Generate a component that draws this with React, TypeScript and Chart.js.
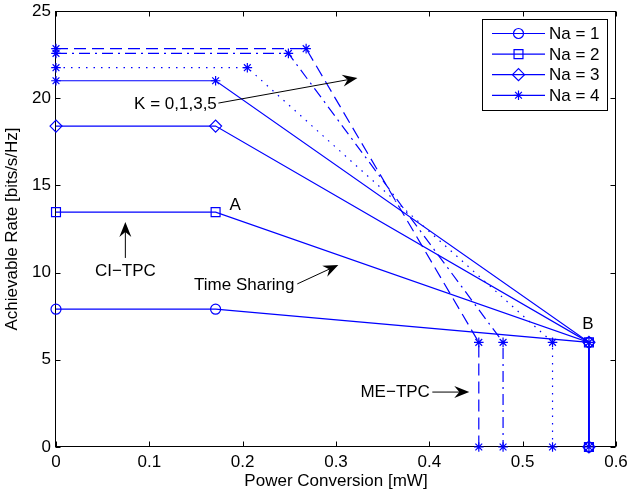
import React, { useEffect, useRef } from 'react';
import { Chart, registerables } from 'chart.js';
import { drawPoint } from 'chart.js/helpers';
Chart.register(...registerables);

const xTickValues = [0, 0.1, 0.2, 0.3, 0.4, 0.5, 0.6];
const xTickLabels = ['0', '0.1', '0.2', '0.3', '0.4', '0.5', '0.6'];
const yTickValues = [0, 5, 10, 15, 20, 25];
const yTickLabels = ['0', '5', '10', '15', '20', '25'];

const na1X = [0, 0.171, 0.571, 0.571];
const na1Y = [7.9, 7.9, 6, 0];
const na2X = [0, 0.171, 0.571, 0.571];
const na2Y = [13.47, 13.47, 6, 0];
const na3X = [0, 0.171, 0.571, 0.571];
const na3Y = [18.4, 18.4, 6, 0];
const na4K0X = [0, 0.171, 0.571, 0.571];
const na4K0Y = [21.0, 21.0, 6, 0];
const na4K1X = [0, 0.205, 0.532, 0.532];
const na4K1Y = [21.75, 21.75, 6, 0];
const na4K3X = [0, 0.249, 0.479, 0.479];
const na4K3Y = [22.57, 22.57, 6, 0];
const na4K5X = [0, 0.268, 0.453, 0.453];
const na4K5Y = [22.84, 22.84, 6, 0];

const legendLabels = ['Na = 1', 'Na = 2', 'Na = 3', 'Na = 4'];
const legendStyles = ['circle', 'rect', 'rectRot', 'star'];

const notes = [
  { text: 'K = 0,1,3,5', x: 0.128, y: 19.67 },
  { text: 'A', x: 0.192, y: 13.88 },
  { text: 'B', x: 0.570, y: 7.05 },
  { text: 'CI\u2212TPC', x: 0.0743, y: 10.09 },
  { text: 'Time Sharing', x: 0.2017, y: 9.29 },
  { text: 'ME\u2212TPC', x: 0.3634, y: 3.15 },
];
const arrows = [
  { x1: 0.174, y1: 19.72, x2: 0.323, y2: 21.16 },
  { x1: 0.0743, y1: 10.84, x2: 0.0743, y2: 12.9 },
  { x1: 0.2585, y1: 9.35, x2: 0.3025, y2: 10.44 },
  { x1: 0.4032, y1: 3.15, x2: 0.4428, y2: 3.15 },
];

const BLUE = '#0000ff';
const FONT = "'Liberation Sans', Arial, sans-serif";
const FS = 17;

const pts = (xs: number[], ys: number[]) => xs.map((x, i) => ({ x, y: ys[i] }));

const radiusFor = (style: string) =>
  style === 'circle' ? 5 : style === 'rect' ? 6.3 : style === 'rectRot' ? 6 : 4.8;

function ds(label: string, xs: number[], ys: number[], style: string, dash: number[]) {
  return {
    label,
    data: pts(xs, ys),
    showLine: true,
    borderColor: BLUE,
    borderWidth: 1.2,
    borderDash: dash,
    pointStyle: style,
    pointRadius: radiusFor(style),
    pointBorderColor: BLUE,
    pointBackgroundColor: 'rgba(0,0,0,0)',
    pointBorderWidth: 1.2,
    clip: false as any,
  };
}

function drawArrow(ctx: CanvasRenderingContext2D, x1: number, y1: number, x2: number, y2: number) {
  const ang = Math.atan2(y2 - y1, x2 - x1);
  const L = 15, W = 6, N = 10;
  ctx.save();
  ctx.strokeStyle = '#000';
  ctx.fillStyle = '#000';
  ctx.lineWidth = 1;
  ctx.beginPath();
  ctx.moveTo(x1, y1);
  ctx.lineTo(x2 - Math.cos(ang) * N, y2 - Math.sin(ang) * N);
  ctx.stroke();
  const bx = x2 - Math.cos(ang) * L, by = y2 - Math.sin(ang) * L;
  const px = -Math.sin(ang), py = Math.cos(ang);
  ctx.beginPath();
  ctx.moveTo(x2, y2);
  ctx.lineTo(bx + px * W, by + py * W);
  ctx.lineTo(x2 - Math.cos(ang) * N, y2 - Math.sin(ang) * N);
  ctx.lineTo(bx - px * W, by - py * W);
  ctx.closePath();
  ctx.fill();
  ctx.restore();
}

const framePlugin = {
  id: 'frame',
  beforeDatasetsDraw(chart: any) {
    const ctx = chart.ctx;
    const { left, right, top, bottom } = chart.chartArea;
    const xs = chart.scales.x, ys = chart.scales.y;
    ctx.save();
    ctx.strokeStyle = '#000';
    ctx.lineWidth = 1;
    const l = Math.round(left) - 0.5, r = Math.round(right) - 0.5, t = Math.round(top) + 0.5, b = Math.round(bottom) - 0.5;
    ctx.strokeRect(l, t, r - l, b - t);
    ctx.beginPath();
    const tl = 5;
    xTickValues.forEach((v) => {
      const px = Math.round(xs.getPixelForValue(v)) + 0.5;
      ctx.moveTo(px, b); ctx.lineTo(px, b - tl);
      ctx.moveTo(px, t); ctx.lineTo(px, t + tl);
    });
    yTickValues.forEach((v) => {
      const py = Math.round(ys.getPixelForValue(v)) + 0.5;
      ctx.moveTo(l, py); ctx.lineTo(l + tl, py);
      ctx.moveTo(r, py); ctx.lineTo(r - tl, py);
    });
    ctx.stroke();
    ctx.restore();
  },
  afterDraw(chart: any) {
    const ctx = chart.ctx;
    const xs = chart.scales.x, ys = chart.scales.y;
    ctx.save();
    ctx.fillStyle = '#000';
    ctx.font = `${FS}px ${FONT}`;
    ctx.textAlign = 'center';
    ctx.textBaseline = 'middle';
    notes.forEach((n) => {
      ctx.fillText(n.text, xs.getPixelForValue(n.x), ys.getPixelForValue(n.y));
    });
    ctx.restore();
    arrows.forEach((a) =>
      drawArrow(ctx, xs.getPixelForValue(a.x1), ys.getPixelForValue(a.y1), xs.getPixelForValue(a.x2), ys.getPixelForValue(a.y2))
    );
    const { right, top } = chart.chartArea;
    const bx = right - 134, by = top + 8, bw = 125, bh = 91;
    ctx.save();
    ctx.fillStyle = '#fff';
    ctx.fillRect(bx, by, bw, bh);
    ctx.strokeStyle = '#000';
    ctx.lineWidth = 1;
    ctx.strokeRect(Math.round(bx) + 0.5, Math.round(by) + 0.5, bw, bh);
    legendLabels.forEach((lab, i) => {
      const y = by + 14.5 + i * 20.6;
      ctx.strokeStyle = BLUE;
      ctx.lineWidth = 1.2;
      ctx.beginPath();
      ctx.moveTo(bx + 10, y);
      ctx.lineTo(bx + 63, y);
      ctx.stroke();
      ctx.fillStyle = 'rgba(0,0,0,0)';
      const st = legendStyles[i];
      drawPoint(ctx, { pointStyle: st as any, radius: radiusFor(st), borderWidth: 1.2, rotation: 0 }, bx + 36.5, y);
      ctx.fillStyle = '#000';
      ctx.font = `${FS}px ${FONT}`;
      ctx.textAlign = 'left';
      ctx.textBaseline = 'middle';
      ctx.fillText(lab, bx + 67, y + 1);
    });
    ctx.restore();
  },
};

export default function App() {
  const ref = useRef<HTMLCanvasElement>(null);
  useEffect(() => {
    document.body.style.margin = '0';
    const chart = new Chart(ref.current as HTMLCanvasElement, {
      type: 'scatter',
      data: {
        datasets: [
          ds('Na = 1', na1X, na1Y, 'circle', []),
          ds('Na = 2', na2X, na2Y, 'rect', []),
          ds('Na = 3', na3X, na3Y, 'rectRot', []),
          ds('Na = 4', na4K0X, na4K0Y, 'star', []),
          ds('Na = 4 K1', na4K1X, na4K1Y, 'star', [1.5, 6]),
          ds('Na = 4 K3', na4K3X, na4K3Y, 'star', [11, 5, 2, 5]),
          ds('Na = 4 K5', na4K5X, na4K5Y, 'star', [12, 6]),
        ] as any,
      },
      options: {
        responsive: false,
        animation: false,
        layout: { padding: { top: 11, right: 12, left: 0, bottom: 0 } },
        plugins: { legend: { display: false }, tooltip: { enabled: false } },
        scales: {
          x: {
            type: 'linear',
            min: 0,
            max: 0.6,
            grid: { display: false, drawTicks: false },
            border: { display: false },
            afterBuildTicks: (s: any) => { s.ticks = xTickValues.map((v) => ({ value: v })); },
            afterFit: (s: any) => { s.height = 46; s.paddingLeft = 0; s.paddingRight = 0; },
            ticks: {
              padding: 5,
              color: '#000',
              font: { family: FONT, size: FS },
              maxRotation: 0,
              callback: (_v: any, i: number) => xTickLabels[i],
            },
            title: {
              display: true,
              text: 'Power Conversion [mW]',
              color: '#000',
              font: { family: FONT, size: FS },
              padding: { top: 0, bottom: 1 },
            },
          },
          y: {
            type: 'linear',
            min: 0,
            max: 25,
            grid: { display: false, drawTicks: false },
            border: { display: false },
            afterBuildTicks: (s: any) => { s.ticks = yTickValues.map((v) => ({ value: v })); },
            afterFit: (s: any) => { s.width = 56; s.paddingTop = 0; s.paddingBottom = 0; },
            ticks: {
              padding: 5,
              color: '#000',
              font: { family: FONT, size: FS },
              callback: (_v: any, i: number) => yTickLabels[i],
            },
            title: {
              display: true,
              text: 'Achievable Rate [bits/s/Hz]',
              color: '#000',
              font: { family: FONT, size: FS },
              padding: { top: 2, bottom: 0 },
            },
          },
        },
      },
      plugins: [framePlugin],
    });
    return () => chart.destroy();
  }, []);
  return (
    <div style={{ position: 'absolute', left: 0, top: 0, width: 628, height: 493 }}>
      <canvas ref={ref} width={628} height={493} />
    </div>
  );
}
